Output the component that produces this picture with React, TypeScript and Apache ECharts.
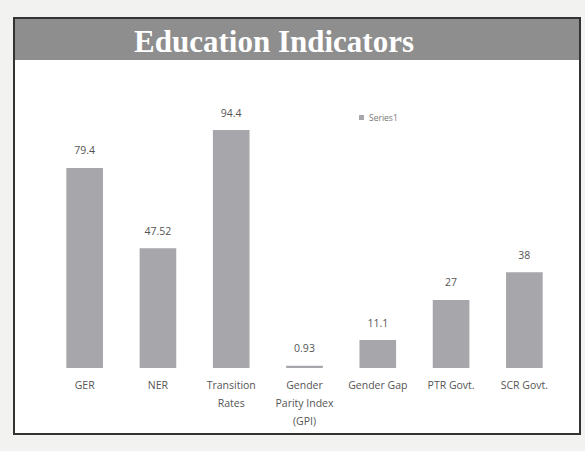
import React, { useEffect, useRef } from "react";
import * as echarts from "echarts";

const categories = [
  "GER",
  "NER",
  "Transition\nRates",
  "Gender\nParity Index\n(GPI)",
  "Gender Gap",
  "PTR Govt.",
  "SCR Govt.",
];
const values = [79.4, 47.52, 94.4, 0.93, 11.1, 27, 38];
const seriesName = "Series1";
const titleText = "Education Indicators";

export default function App() {
  const ref = useRef<HTMLDivElement>(null);
  useEffect(() => {
    if (!ref.current) return;
    const chart = echarts.init(ref.current, null, { renderer: "svg" });
    chart.setOption({
      animation: false,
      backgroundColor: "#f2f2f0",
      graphic: [
        {
          type: "rect",
          z: -10,
          shape: { x: 14, y: 18, width: 566, height: 416 },
          style: { fill: "#ffffff", stroke: "#333333", lineWidth: 2 },
        },
        {
          type: "rect",
          z: -9,
          shape: { x: 15, y: 19, width: 564, height: 41 },
          style: { fill: "#8e8e8e" },
        },
        {
          type: "text",
          z: 10,
          x: 274,
          y: 41,
          style: {
            text: titleText,
            fill: "#ffffff",
            font: "bold 31px 'Liberation Serif', 'DejaVu Serif', serif",
            align: "center",
            verticalAlign: "middle",
          },
        },
      ],
      legend: {
        left: 354,
        top: 108,
        itemWidth: 5,
        itemHeight: 5,
        itemGap: 3,
        data: [seriesName],
        textStyle: { fontSize: 8.5, color: "#777", fontFamily: "'Open Sans', sans-serif" },
        icon: "rect",
      },
      grid: { left: 48, right: 24, top: 116, bottom: 83 },
      xAxis: {
        type: "category",
        data: categories,
        axisLine: { show: false },
        axisTick: { show: false },
        axisLabel: {
          interval: 0,
          color: "#555",
          fontSize: 10.5,
          lineHeight: 18,
          margin: 8,
          fontFamily: "'Open Sans', sans-serif",
        },
      },
      yAxis: {
        type: "value",
        min: 0,
        max: 100,
        show: false,
        splitLine: { show: false },
      },
      series: [
        {
          name: seriesName,
          type: "bar",
          data: values,
          barWidth: "50%",
          itemStyle: { color: "#a7a7ab" },
          label: {
            show: true,
            position: "top",
            distance: 12,
            color: "#555",
            fontSize: 10.5,
            fontFamily: "'Open Sans', sans-serif",
          },
        },
      ],
    });
    return () => chart.dispose();
  }, []);
  return (
    <div
      ref={ref}
      style={{ position: "fixed", left: 0, top: 0, width: 585, height: 451 }}
    />
  );
}
